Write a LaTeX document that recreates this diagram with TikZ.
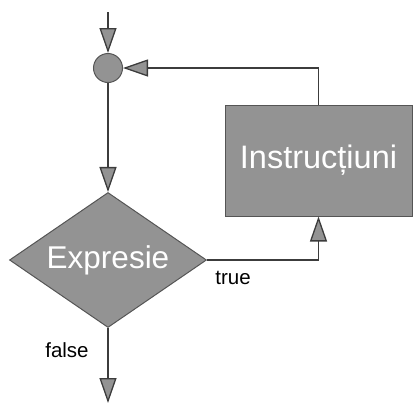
\documentclass[tikz,border=0pt]{standalone}
\usepackage{fontspec}
\setmainfont{Liberation Sans}
\usetikzlibrary{shapes.geometric,arrows.meta}
\definecolor{boxgray}{HTML}{939393}
\definecolor{edgegray}{HTML}{555555}
\definecolor{linegray}{HTML}{3C3C3C}
\tikzset{
  block/.style={draw=edgegray, fill=boxgray, line width=1pt, text=white, inner sep=0pt},
  flow/.style={draw=linegray, line width=1.3pt,
    -{Triangle[length=25pt,width=17pt,fill=boxgray]}},
  lbl/.style={text=black, font=\fontsize{20.5}{24}\selectfont, inner sep=0pt}
}
\begin{document}
\begin{tikzpicture}[x=1pt,y=-1pt]
\useasboundingbox (0,0) rectangle (413,405);

% entry point and final exit
\coordinate (start) at (108,12);
\coordinate (exit) at (108,403);

% junction, condition and loop body
\node[block, circle, minimum size=29pt] (join) at (108,68) {};
\node[block, diamond, aspect=1.46, minimum width=197pt, minimum height=135pt,
      font=\fontsize{31.5}{34}\selectfont] (cond) at (108,260) {Expresie};
\node[block, rectangle, minimum width=187pt, minimum height=111pt,
      font=\fontsize{32.5}{36}\selectfont] (body) at (318.5,160.5) {Instrucțiuni};

% connectors
\draw[flow] (start) -- (join);
\draw[flow] (join) -- (cond);
\draw[flow] (cond.east) -| (body.south);
\draw[flow] (body.north) |- (join.east);
\draw[flow] (cond.south) -- (exit);

% branch labels
\node[lbl] (ltrue) at (233,278) {true};
\node[lbl] (lfalse) at (67,350) {false};
\end{tikzpicture}
\end{document}
